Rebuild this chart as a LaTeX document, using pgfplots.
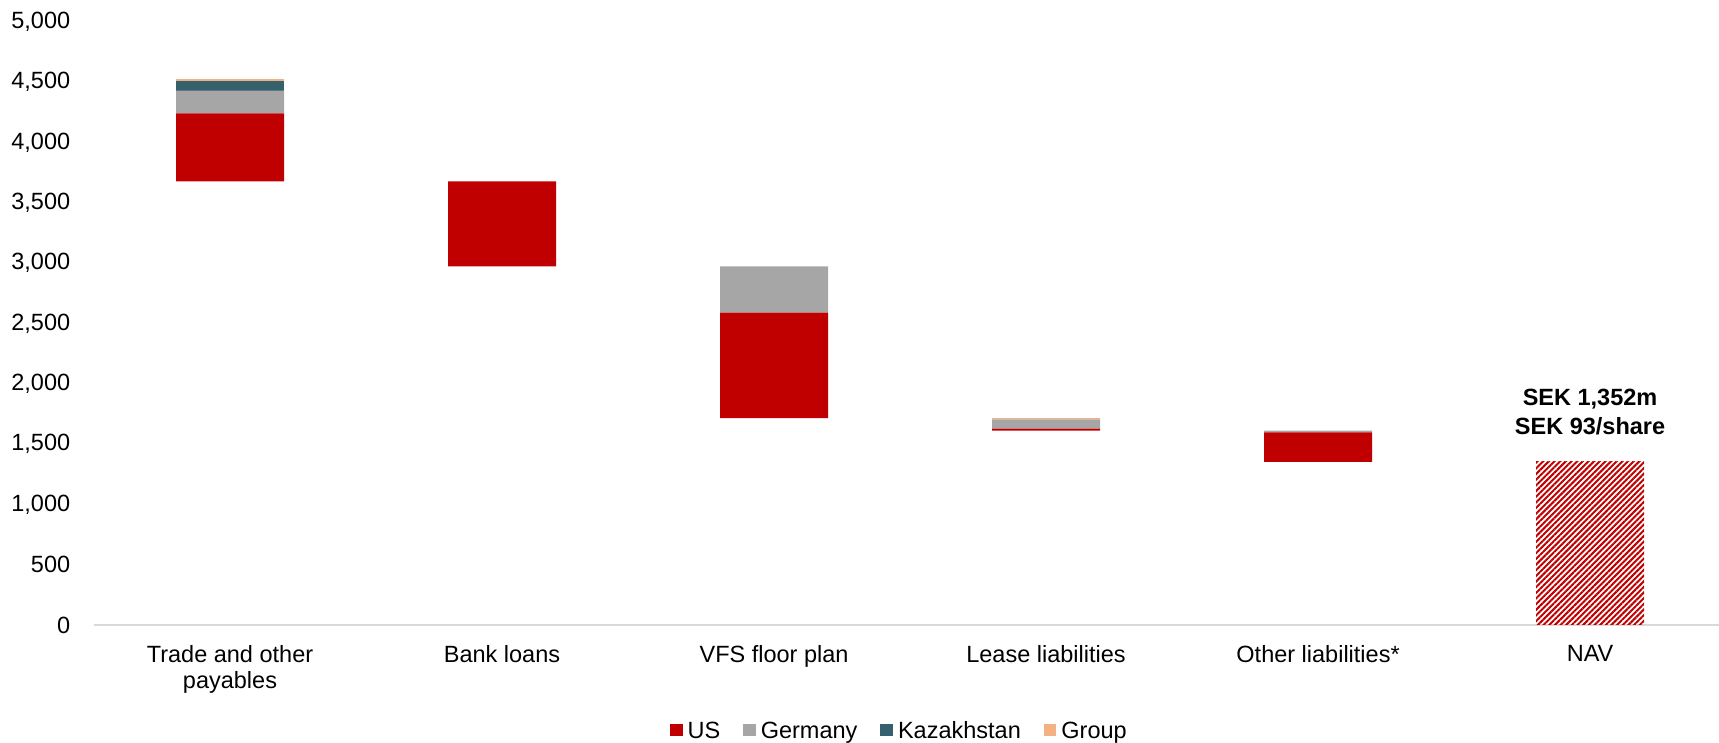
\documentclass[border=0pt]{standalone}
\usepackage{pgfplots}
\pgfplotsset{compat=1.18}
\usepackage{fontspec}
\setmainfont{Liberation Sans}
\usetikzlibrary{patterns.meta}
\definecolor{cUS}{HTML}{C00000}
\definecolor{cDE}{HTML}{A6A6A6}
\definecolor{cKZ}{HTML}{35606E}
\definecolor{cGR}{HTML}{F4B183}
\definecolor{axgray}{HTML}{D9D9D9}
\pgfplotsset{sq legend/.style={legend image code/.code={\fill[##1,draw=none] (0pt,-3.15pt) rectangle (6.3pt,3.15pt);}}}
\begin{document}
\begin{tikzpicture}[font=\fontsize{11.75}{13.2}\selectfont]
\begin{axis}[
  at={(47pt,59pt)}, anchor=south west,
  width=812.5pt, height=301.5pt, scale only axis,
  ybar stacked, bar width=54pt,
  xmin=-0.5, xmax=5.474, ymin=0, ymax=5000,
  ytick={0,500,...,5000},
  xtick={0,1,2,3,4,5},
  xticklabels={{Trade and other\\payables},{Bank loans},{VFS floor plan},{Lease liabilities},{Other liabilities*},{NAV}},
  xticklabel style={align=center, inner sep=0pt, anchor=north, yshift=-10pt},
  yticklabel style={inner sep=0pt, anchor=east, xshift=-11.7pt},
  /pgf/number format/assume math mode=true,
  /pgf/number format/1000 sep={,},
  scaled y ticks=false,
  major tick length=0pt,
  axis x line*=bottom, axis y line*=left,
  x axis line style={draw=axgray, line width=0.7pt},
  y axis line style={draw=none},
  legend columns=4,
  legend style={draw=none, fill=none, at={(0.495,-0.1592)}, anchor=north, inner sep=0pt,
    nodes={inner sep=0pt, text depth=0pt},
    /tikz/every odd column/.append style={column sep=2.5pt},
    /tikz/every even column/.append style={column sep=11.5pt}},
]
\addplot[draw=none, fill=none, forget plot] coordinates {(0,3678) (1,2973) (2,1716) (3,1612) (4,1352) (5,0)};
\addplot[fill=cUS, draw=none, sq legend] coordinates {(0,564) (1,705) (2,875) (3,16) (4,245) (5,0)};
\addplot[fill=cDE, draw=none, sq legend] coordinates {(0,188) (1,0) (2,382) (3,76) (4,15) (5,0)};
\addplot[fill=cKZ, draw=none, sq legend] coordinates {(0,80) (1,0) (2,0) (3,0) (4,0) (5,0)};
\addplot[fill=cGR, draw=none, sq legend] coordinates {(0,17) (1,0) (2,0) (3,12) (4,0) (5,0)};
\addplot[draw=none, pattern={Lines[angle=45,distance=2pt,line width=1pt]}, pattern color=cUS, forget plot] coordinates {(0,0) (1,0) (2,0) (3,0) (4,0) (5,1352)};
\legend{US,Germany,Kazakhstan,Group}
\node[align=center, font=\fontsize{11.75}{14.5}\selectfont\bfseries] at (axis cs:5,1770) {SEK 1,352m\\SEK 93/share};
\end{axis}
\pgfresetboundingbox
\path (0,0) rectangle (859.5pt,371.5pt);
\end{tikzpicture}
\end{document}
